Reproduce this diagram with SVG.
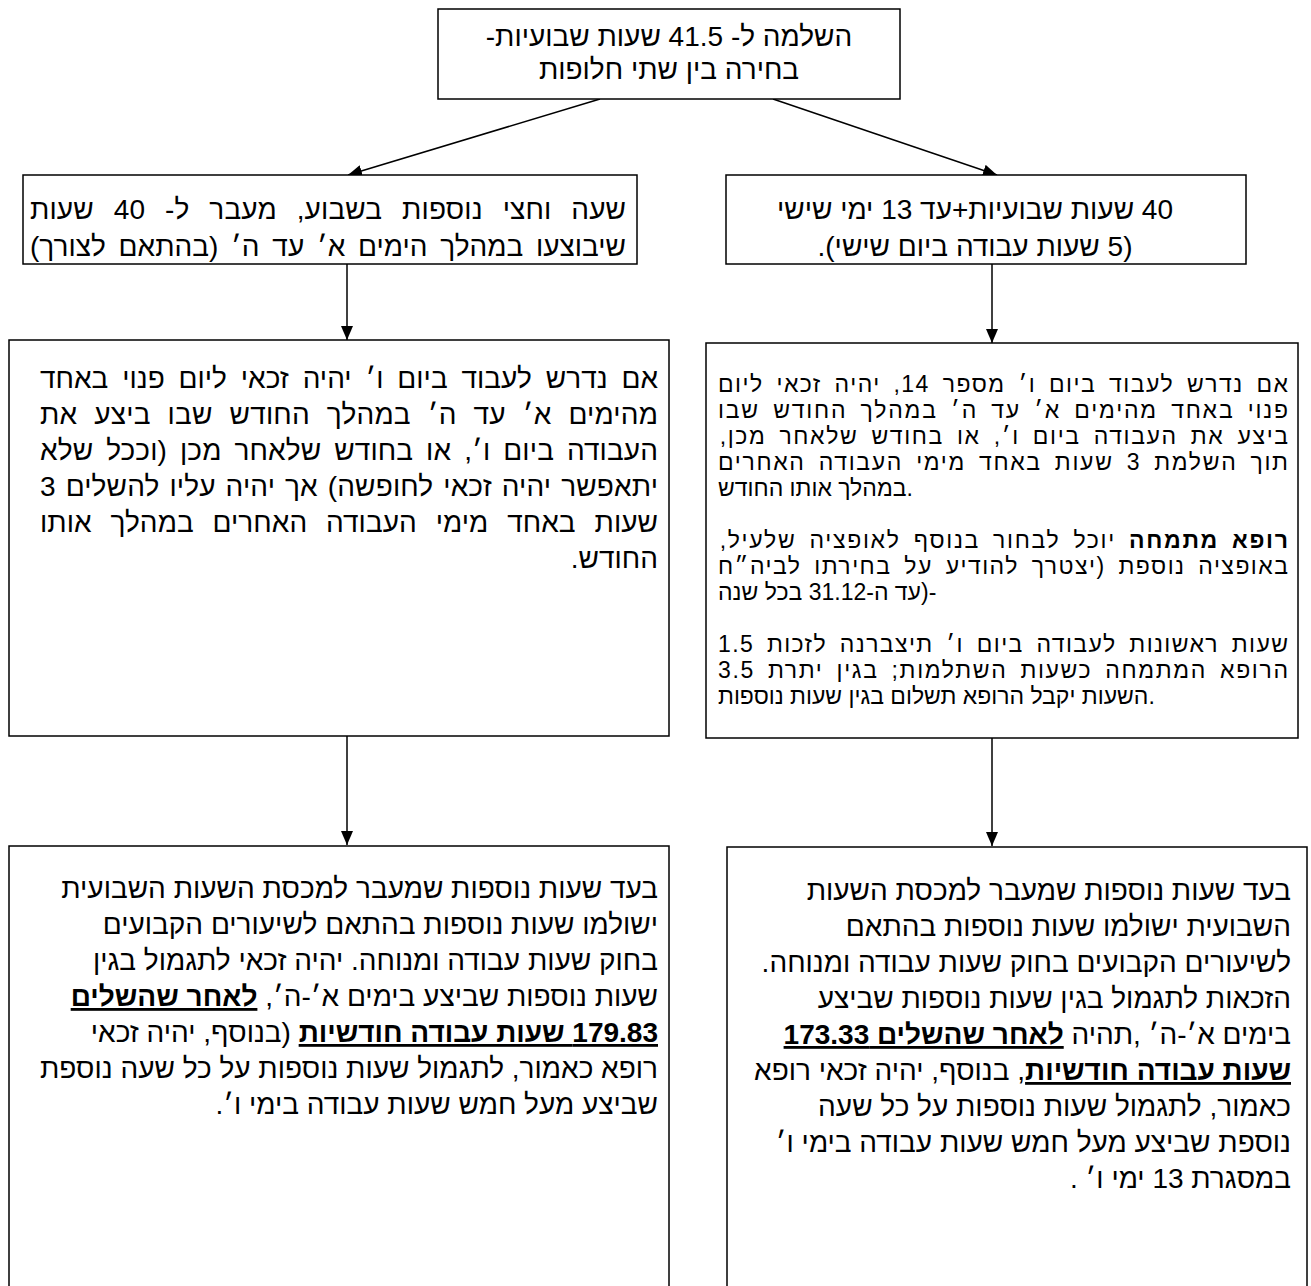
<svg xmlns="http://www.w3.org/2000/svg" width="1311" height="1286" viewBox="0 0 1311 1286">
<style>
.box{fill:#fff;stroke:#000;stroke-width:1.5}
.t{font-family:"Liberation Sans","DejaVu Sans",sans-serif;font-size:28px;fill:#000;direction:rtl;unicode-bidi:embed}
.s{font-size:23px;direction:ltr}
.j{word-spacing:5px}
.r{text-anchor:start}
.c{text-anchor:middle}
.b{font-weight:bold}
.u{text-decoration:underline}
.edge{stroke:#000;stroke-width:1.5;fill:none}
</style>
<defs>
<marker id="av" viewBox="0 0 14 12" refX="14" refY="6" markerWidth="14" markerHeight="12" markerUnits="userSpaceOnUse" orient="auto">
<path d="M0,0 L14,6 L0,12 Z" fill="#000"/>
</marker>
</defs>
<rect width="1311" height="1286" fill="#fff"/>

<g id="connectors">
<line class="edge" x1="600" y1="99" x2="348" y2="175" marker-end="url(#av)"/>
<line class="edge" x1="773" y1="99" x2="997" y2="175" marker-end="url(#av)"/>
<line class="edge" x1="347" y1="264" x2="347" y2="340" marker-end="url(#av)"/>
<line class="edge" x1="992" y1="264" x2="992" y2="343" marker-end="url(#av)"/>
<line class="edge" x1="347" y1="736" x2="347" y2="845" marker-end="url(#av)"/>
<line class="edge" x1="992" y1="738" x2="992" y2="846" marker-end="url(#av)"/>
</g>

<g id="top">
<rect class="box" x="438" y="9" width="462" height="90"/>
<text class="t c" x="669" y="46">השלמה ל- 41.5 שעות שבועיות-</text>
<text class="t c" x="669" y="79">בחירה בין שתי חלופות</text>
</g>

<g id="optionB">
<rect class="box" x="23" y="175" width="614" height="89"/>
<text class="t r" x="626" y="219" style="word-spacing:12px" textLength="596" lengthAdjust="spacing">שעה וחצי נוספות בשבוע, מעבר ל- 40 שעות</text>
<text class="t r" x="626" y="256" style="word-spacing:5px" textLength="596" lengthAdjust="spacing">שיבוצעו במהלך הימים א׳ עד ה׳ (בהתאם לצורך)</text>
</g>

<g id="optionA">
<rect class="box" x="726" y="175" width="520" height="89"/>
<text class="t c" x="975" y="219">40 שעות שבועיות+עד 13 ימי שישי</text>
<text class="t c" x="975" y="256">(5 שעות עבודה ביום שישי).</text>
</g>

<g id="fridayB">
<rect class="box" x="9" y="340" width="660" height="396"/>
<text class="t r" x="658" y="388" style="word-spacing:6px" textLength="618" lengthAdjust="spacing">אם נדרש לעבוד ביום ו׳ יהיה זכאי ליום פנוי באחד</text>
<text class="t r" x="658" y="424" style="word-spacing:9px" textLength="618" lengthAdjust="spacing">מהימים א׳ עד ה׳ במהלך החודש שבו ביצע את</text>
<text class="t r" x="658" y="460" style="word-spacing:5px" textLength="618" lengthAdjust="spacing">העבודה ביום ו׳, או בחודש שלאחר מכן (וככל שלא</text>
<text class="t r" x="658" y="496" style="word-spacing:2px" textLength="618" lengthAdjust="spacing">יתאפשר יהיה זכאי לחופשה) אך יהיה עליו להשלים 3</text>
<text class="t r" x="658" y="532" style="word-spacing:11px" textLength="618" lengthAdjust="spacing">שעות באחד מימי העבודה האחרים במהלך אותו</text>
<text class="t r" x="658" y="568">החודש.</text>
</g>

<g id="fridayA">
<rect class="box" x="706" y="343" width="592" height="395"/>
<text class="t s j r" x="718" y="392" textLength="570" lengthAdjust="spacing">אם נדרש לעבוד ביום ו׳ מספר 14, יהיה זכאי ליום</text>
<text class="t s j r" x="718" y="418" textLength="570" lengthAdjust="spacing">פנוי באחד מהימים א׳ עד ה׳ במהלך החודש שבו</text>
<text class="t s j r" x="718" y="444" textLength="570" lengthAdjust="spacing">ביצע את העבודה ביום ו׳, או בחודש שלאחר מכן,&#x200F;</text>
<text class="t s j r" x="718" y="470" textLength="570" lengthAdjust="spacing">תוך השלמת 3 שעות באחד מימי העבודה האחרים</text>
<text class="t s r" x="718" y="496">במהלך אותו החודש.</text>
<text class="t s j r" x="718" y="548" textLength="570" lengthAdjust="spacing"><tspan class="b">רופא מתמחה</tspan> יוכל לבחור בנוסף לאופציה שלעיל,&#x200F;</text>
<text class="t s j r" x="718" y="574" textLength="570" lengthAdjust="spacing">באופציה נוספת (יצטרך להודיע על בחירתו לביה״ח</text>
<text class="t s r" x="718" y="600">עד ה-31.12 בכל שנה)-</text>
<text class="t s j r" x="718" y="652" textLength="570" lengthAdjust="spacing">1.5 שעות ראשונות לעבודה ביום ו׳ תיצברנה לזכות</text>
<text class="t s j r" x="718" y="678" textLength="570" lengthAdjust="spacing">הרופא המתמחה כשעות השתלמות; בגין יתרת 3.5</text>
<text class="t s r" x="718" y="704">השעות יקבל הרופא תשלום בגין שעות נוספות.</text>
</g>

<g id="overtimeB">
<rect class="box" x="9" y="846" width="660" height="450"/>
<text class="t r" x="658" y="898">בעד שעות נוספות שמעבר למכסת השעות השבועית</text>
<text class="t r" x="658" y="934">ישולמו שעות נוספות בהתאם לשיעורים הקבועים</text>
<text class="t r" x="658" y="970">בחוק שעות עבודה ומנוחה. יהיה זכאי לתגמול בגין</text>
<text class="t r" x="658" y="1006">שעות נוספות שביצע בימים א׳-ה׳, <tspan class="b u">לאחר שהשלים</tspan></text>
<text class="t r" x="658" y="1042"><tspan class="b u">179.83  שעות עבודה חודשיות</tspan> (בנוסף, יהיה זכאי</text>
<text class="t r" x="658" y="1078">רופא כאמור, לתגמול שעות נוספות על כל שעה נוספת</text>
<text class="t r" x="658" y="1114">שביצע מעל חמש שעות עבודה בימי ו׳.</text>
</g>

<g id="overtimeA">
<rect class="box" x="727" y="847" width="580" height="450"/>
<text class="t r" x="1291" y="900">בעד שעות נוספות שמעבר למכסת השעות</text>
<text class="t r" x="1291" y="936">השבועית ישולמו שעות נוספות בהתאם</text>
<text class="t r" x="1291" y="972">לשיעורים הקבועים בחוק שעות עבודה ומנוחה.</text>
<text class="t r" x="1291" y="1008">הזכאות לתגמול בגין שעות נוספות שביצע</text>
<text class="t r" x="1291" y="1044">בימים א׳-ה׳ ,תהיה <tspan class="b u">לאחר שהשלים 173.33</tspan></text>
<text class="t r" x="1291" y="1080"><tspan class="b u">שעות עבודה חודשיות</tspan>, בנוסף, יהיה זכאי רופא</text>
<text class="t r" x="1291" y="1116">כאמור, לתגמול שעות נוספות על כל שעה</text>
<text class="t r" x="1291" y="1152">נוספת שביצע מעל חמש שעות עבודה בימי ו׳</text>
<text class="t r" x="1291" y="1188">במסגרת 13 ימי ו׳ .</text>
</g>
</svg>
